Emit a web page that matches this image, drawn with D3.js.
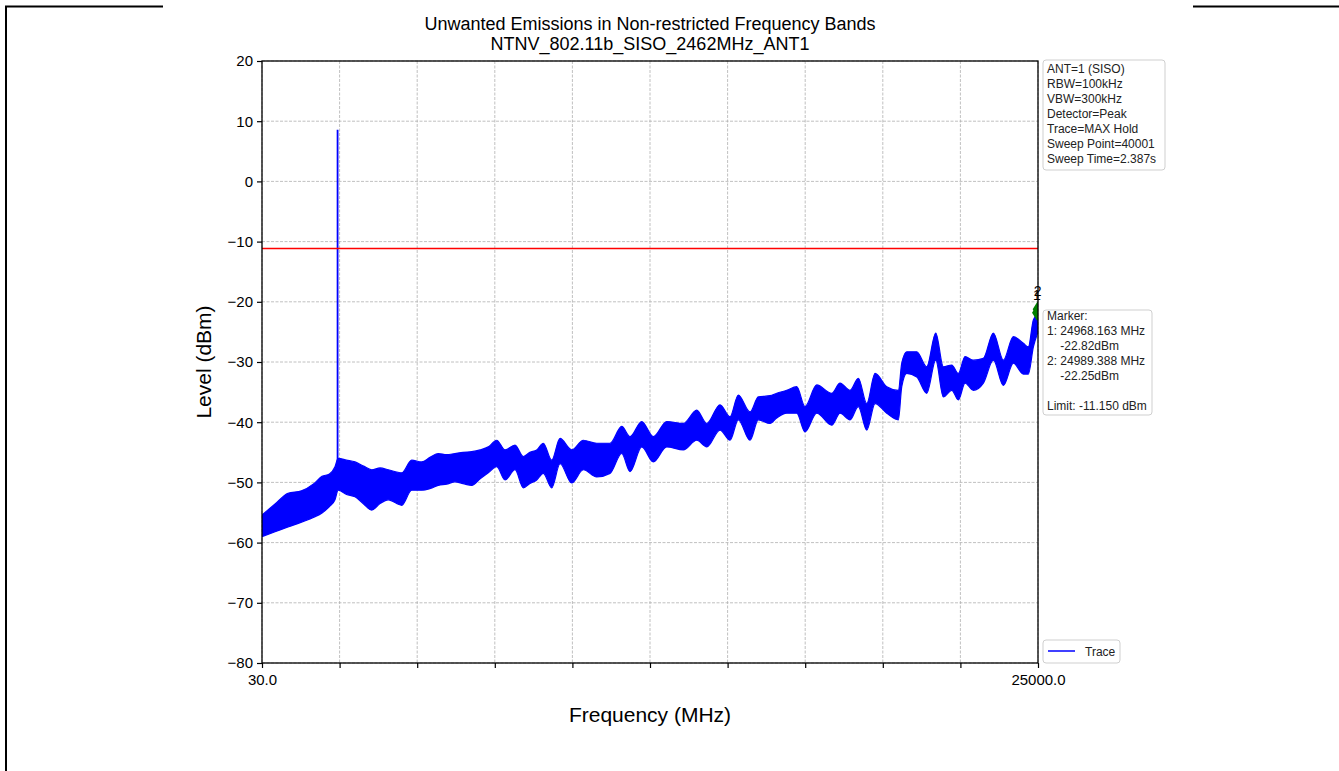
<!DOCTYPE html>
<html>
<head>
<meta charset="utf-8">
<script src="https://cdn.jsdelivr.net/npm/d3@7"></script>
<style>
  html, body { margin: 0; padding: 0; background: #fff; }
  svg { display: block; font-family: "Liberation Sans", Arial, sans-serif; }
</style>
</head>
<body>
<svg id="chart" width="1339" height="771"></svg>
<script>
// ---------------- data ----------------
const titleLines = ["Unwanted Emissions in Non-restricted Frequency Bands", "NTNV_802.11b_SISO_2462MHz_ANT1"];
const xLabel = "Frequency (MHz)";
const yLabel = "Level (dBm)";
const xDomain = [30, 25000];
const yDomain = [-80, 20];
const xTickValues = [30, 2527, 5024, 7521, 10018, 12515, 15012, 17509, 20006, 22503, 25000];
const xTickLabels = ["30.0", "", "", "", "", "", "", "", "", "", "25000.0"];
const yTickValues = [20, 10, 0, -10, -20, -30, -40, -50, -60, -70, -80];

// trace envelope (MHz, max dBm, min dBm)
const traceFreq = [30, 450, 867, 1300, 1700, 1961, 2200, 2379, 2480, 2750, 3023, 3300, 3560, 3830, 4094, 4526, 4847, 5169, 5450, 5703, 5970, 6241, 6500, 6778, 7050, 7312, 7583, 7850, 8172, 8439, 8650, 8870, 9082, 9352, 9620, 9996, 10369, 10800, 11229, 11605, 11872, 12249, 12622, 13053, 13588, 14019, 14341, 14768, 15090, 15357, 15734, 16001, 16377, 16593, 16915, 17236, 17503, 17880, 18363, 18630, 18952, 19219, 19490, 19757, 20134, 20507, 20616, 20777, 21099, 21420, 21710, 21955, 22225, 22437, 22653, 22920, 23242, 23564, 23886, 24207, 24529, 24690, 24851, 25000];
const traceMax = [-55.4, -53.6, -51.8, -51.4, -50.2, -49.0, -48.6, -47.4, -46.0, -46.3, -46.6, -47.3, -47.9, -47.6, -47.9, -48.4, -46.3, -46.6, -45.8, -45.2, -45.4, -45.2, -45.0, -44.9, -44.6, -44.1, -43.0, -44.6, -43.8, -45.7, -45.0, -44.6, -43.5, -46.3, -42.7, -44.6, -43.0, -43.5, -43.5, -40.7, -42.4, -39.9, -42.4, -39.9, -40.2, -38.0, -40.2, -37.1, -39.1, -35.5, -38.3, -35.8, -35.6, -35.2, -34.7, -34.1, -37.4, -33.8, -35.2, -33.5, -34.7, -32.7, -36.9, -31.9, -34.1, -34.7, -30.2, -28.3, -28.3, -30.8, -25.2, -30.8, -30.5, -31.9, -29.1, -29.7, -29.4, -25.2, -29.7, -25.8, -26.9, -27.5, -23.0, -22.0];
const traceMin = [-59.0, -58.2, -57.4, -56.6, -55.8, -55.1, -54.0, -52.9, -51.3, -52.0, -52.4, -53.6, -54.6, -53.5, -52.9, -53.8, -51.3, -51.3, -51.0, -50.5, -50.3, -49.9, -50.2, -50.5, -49.4, -48.4, -47.4, -49.6, -47.9, -50.9, -50.2, -49.6, -48.5, -50.9, -46.9, -50.1, -47.9, -49.1, -48.5, -45.2, -48.2, -44.1, -46.6, -44.1, -44.6, -43.0, -44.1, -41.3, -43.0, -39.6, -43.0, -39.6, -40.2, -39.3, -38.5, -38.5, -41.6, -38.5, -40.5, -38.5, -39.6, -37.4, -41.3, -36.9, -38.5, -39.6, -34.1, -31.9, -32.5, -35.2, -29.7, -35.8, -34.7, -36.3, -33.5, -34.7, -33.5, -29.7, -33.9, -30.2, -32.0, -32.0, -27.5, -25.0];

// carrier spike
const spikeFreq = [2462, 2462];
const spikeLevel = [-47.0, 8.6];

const limitLevel = -11.15;

const markerIds = ["1", "2"];
const markerFreq = [24968.163, 24989.388];
const markerLevel = [-22.82, -22.25];

const infoLines = ["ANT=1 (SISO)", "RBW=100kHz", "VBW=300kHz", "Detector=Peak", "Trace=MAX Hold", "Sweep Point=40001", "Sweep Time=2.387s"];
const markerLines = ["Marker:", "1: 24968.163 MHz", "    -22.82dBm", "2: 24989.388 MHz", "    -22.25dBm", "", "Limit: -11.150 dBm"];
const legendLabel = "Trace";

// ---------------- drawing ----------------
const svg = d3.select("#chart");
const W = 1339, H = 771;
const m = { left: 262, right: 1038, top: 61, bottom: 663 };

svg.append("rect").attr("width", W).attr("height", H).attr("fill", "#fff");

// page frame lines
const frame = svg.append("g").attr("stroke", "#000").attr("stroke-width", 2).attr("fill", "none");
frame.append("path").attr("d", "M6,771 L6,6.5 L163,6.5");
frame.append("path").attr("d", "M1193,6.5 L1339,6.5");

const x = d3.scaleLinear().domain(xDomain).range([m.left, m.right]);
const y = d3.scaleLinear().domain(yDomain).range([m.bottom, m.top]);

svg.append("defs").append("clipPath").attr("id", "plotclip")
  .append("rect").attr("x", m.left).attr("y", m.top).attr("width", m.right - m.left).attr("height", m.bottom - m.top);

// grid
const grid = svg.append("g").attr("stroke", "#b0b0b0").attr("stroke-width", 0.8).attr("stroke-dasharray", "3,1.5");
grid.selectAll("line.gx").data(xTickValues).join("line")
  .attr("x1", d => x(d)).attr("x2", d => x(d)).attr("y1", m.top).attr("y2", m.bottom);
grid.selectAll("line.gy").data(yTickValues).join("line")
  .attr("y1", d => y(d)).attr("y2", d => y(d)).attr("x1", m.left).attr("x2", m.right);

// trace band
const traceData = traceFreq.map((f, i) => ({ f, hi: traceMax[i], lo: traceMin[i] }));
const plot = svg.append("g").attr("clip-path", "url(#plotclip)");
plot.append("path").datum(traceData)
  .attr("fill", "#0000ff").attr("stroke", "#0000ff").attr("stroke-width", 1.2)
  .attr("stroke-linejoin", "round")
  .attr("d", d3.area().curve(d3.curveMonotoneX).x(d => x(d.f)).y0(d => y(d.lo)).y1(d => y(d.hi)));

// spike
plot.append("path").datum(spikeFreq.map((f, i) => [f, spikeLevel[i]]))
  .attr("fill", "none").attr("stroke", "#0000ff").attr("stroke-width", 1.8)
  .attr("d", d3.line().x(d => x(d[0])).y(d => y(d[1])));

// limit line
plot.append("line").attr("x1", m.left).attr("x2", m.right)
  .attr("y1", y(limitLevel)).attr("y2", y(limitLevel))
  .attr("stroke", "#ff0000").attr("stroke-width", 1.5);

// markers
const mk = markerFreq.map((f, i) => ({ f, v: markerLevel[i], id: markerIds[i] }));
plot.selectAll("path.mk").data(mk).join("path")
  .attr("transform", d => `translate(${x(d.f)},${y(d.v) - 6})`)
  .attr("d", "M0,-8 L5,0 L0,8 L-5,0 Z")
  .attr("fill", "#008000");
svg.selectAll("text.mkl").data(mk).join("text")
  .attr("x", d => x(d.f)).attr("y", d => y(d.v) - 19)
  .attr("text-anchor", "middle").attr("font-size", 14).attr("fill", "#000")
  .text(d => d.id);

// axes
const yAxis = d3.axisLeft(y).tickValues(yTickValues).tickSize(5).tickPadding(4)
  .tickFormat(d => d3.format("d")(d).replace("-", "\u2212"));
const gy = svg.append("g").attr("transform", `translate(${m.left},0)`).call(yAxis);
const xAxis = d3.axisBottom(x).tickValues(xTickValues).tickSize(5).tickPadding(6)
  .tickFormat((d, i) => xTickLabels[i]);
const gx = svg.append("g").attr("transform", `translate(0,${m.bottom})`).call(xAxis);
[gx, gy].forEach(g => {
  g.select(".domain").remove();
  g.selectAll(".tick line").attr("stroke", "#000").attr("stroke-width", 1.2);
  g.selectAll(".tick text").attr("font-size", 15).attr("fill", "#000")
    .attr("font-family", "'Liberation Sans', Arial, sans-serif");
});

// spines
svg.append("rect").attr("x", m.left).attr("y", m.top).attr("width", m.right - m.left).attr("height", m.bottom - m.top)
  .attr("fill", "none").attr("stroke", "#000").attr("stroke-width", 1.3);

// titles
svg.selectAll("text.title").data(titleLines).join("text")
  .attr("x", (m.left + m.right) / 2).attr("y", (d, i) => 30 + i * 20)
  .attr("text-anchor", "middle").attr("font-size", 18).attr("fill", "#000").text(d => d);

svg.append("text").attr("x", (m.left + m.right) / 2).attr("y", 722)
  .attr("text-anchor", "middle").attr("font-size", 21).attr("fill", "#000").text(xLabel);
svg.append("text").attr("transform", `translate(211,${(m.top + m.bottom) / 2}) rotate(-90)`)
  .attr("text-anchor", "middle").attr("font-size", 21).attr("fill", "#000").text(yLabel);

// info box
function textBox(lines, bx, by, bw, bh, y0) {
  const g = svg.append("g");
  g.append("rect").attr("x", bx).attr("y", by).attr("width", bw).attr("height", bh)
    .attr("rx", 3).attr("fill", "#fff").attr("stroke", "#cfcfcf").attr("stroke-width", 1);
  g.selectAll("text").data(lines).join("text")
    .attr("x", bx + 4).attr("y", (d, i) => y0 + i * 15)
    .attr("font-size", 12).attr("fill", "#222").style("white-space", "pre")
    .text(d => d);
}
textBox(infoLines, 1043, 60, 122, 110, 73);
textBox(markerLines, 1043, 310, 109, 105, 320);

// legend
const lg = svg.append("g");
lg.append("rect").attr("x", 1043).attr("y", 640).attr("width", 77).attr("height", 23)
  .attr("rx", 3).attr("fill", "#fff").attr("stroke", "#cfcfcf");
lg.append("line").attr("x1", 1048).attr("x2", 1075).attr("y1", 651).attr("y2", 651)
  .attr("stroke", "#0000ff").attr("stroke-width", 1.5);
lg.append("text").attr("x", 1085).attr("y", 655.5).attr("font-size", 12).attr("fill", "#222").text(legendLabel);
</script>
</body>
</html>
